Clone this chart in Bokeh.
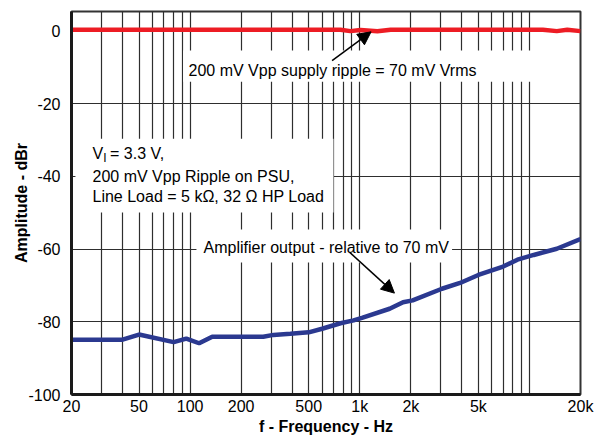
from bokeh.plotting import figure
from bokeh.models import (Range1d, FixedTicker, Label, BoxAnnotation, Arrow, NormalHead)
from bokeh.embed import file_html
from bokeh.resources import INLINE

# ---- data ----
ripple_freq = [20, 770, 880, 1010, 1270, 1520, 12000, 14500, 16700, 20000]
ripple_db = [0.4, 0.4, 0.0, 0.3, -0.05, 0.4, 0.4, 0.0, 0.35, 0.0]

amp_freq = [20, 40, 50, 80, 95, 113, 135, 270, 310, 390, 500, 600, 770, 920, 1030,
            1500, 1800, 2050, 3050, 3900, 5000, 7000, 8500, 10600, 14500, 20000]
amp_db = [-84.9, -84.9, -83.5, -85.6, -84.6, -85.9, -84.1, -84.1, -83.6, -83.3, -82.9,
          -81.9, -80.4, -79.6, -78.9, -76.4, -74.6, -74.1, -70.9, -69.3, -67.1, -64.8,
          -62.9, -61.6, -59.9, -57.2]

x_ticks = [20, 50, 100, 200, 500, 1000, 2000, 5000, 20000]
x_tick_labels = ["20", "50", "100", "200", "500", "1k", "2k", "5k", "20k"]
x_grid = [30, 40, 50, 60, 70, 80, 90, 100, 200, 300, 400, 500, 600, 700, 800, 900,
          1000, 2000, 3000, 4000, 5000, 6000, 7000, 8000, 9000, 10000]
y_ticks = [-100, -80, -60, -40, -20, 0]
y_tick_labels = ["-100", "-80", "-60", "-40", "-20", "0"]
y_grid = [-80, -60, -40, -20]

FONT = "Liberation Sans"

p = figure(width=594, height=437, x_axis_type="log",
           x_range=Range1d(20, 20000), y_range=Range1d(-100, 5.4),
           output_backend="svg", toolbar_location=None,
           min_border_left=71, min_border_right=14, min_border_top=11, min_border_bottom=43)

p.background_fill_color = "white"
p.border_fill_color = "white"
p.outline_line_color = "#333333"
p.outline_line_width = 2

# grid
p.xgrid.ticker = FixedTicker(ticks=x_grid)
p.ygrid.ticker = FixedTicker(ticks=y_grid)
for g in (p.xgrid, p.ygrid):
    g.grid_line_color = "#2e2e2e"
    g.grid_line_width = 1.2
    g.minor_grid_line_color = None

# axes
p.xaxis.ticker = FixedTicker(ticks=x_ticks)
p.xaxis.major_label_overrides = {t: l for t, l in zip(x_ticks, x_tick_labels)}
p.yaxis.ticker = FixedTicker(ticks=y_ticks)
p.yaxis.major_label_overrides = {t: l for t, l in zip(y_ticks, y_tick_labels)}
for ax in (p.xaxis, p.yaxis):
    ax.axis_line_color = "#1a1a1a"
    ax.axis_line_width = 3
    ax.major_tick_line_color = None
    ax.minor_tick_line_color = None
    ax.major_label_text_font = FONT
    ax.major_label_text_font_size = "16px"
    ax.major_label_text_color = "black"
    ax.axis_label_text_font = FONT
    ax.axis_label_text_font_size = "16px"
    ax.axis_label_text_font_style = "bold"
    ax.axis_label_text_color = "black"
p.xaxis.axis_label = "f - Frequency - Hz"
p.yaxis.axis_label = "Amplitude - dBr"
p.xaxis.major_label_standoff = -3
p.xaxis.axis_label_standoff = 0
p.yaxis.major_label_standoff = 5
p.yaxis.axis_label_standoff = -5

# data lines
p.line(ripple_freq, ripple_db, line_color="#ED1C24", line_width=4.5)
p.line(amp_freq, amp_db, line_color="#2B3990", line_width=4.5)

# white boxes behind the annotation texts
boxes = [(91, 10800, -5.3, -13.9), (21.1, 700, -29.6, -49.9), (109, 3500, -54.6, -63.7)]
for l, r, t, b in boxes:
    p.add_layout(BoxAnnotation(left=l, right=r, top=t, bottom=b, fill_color="white",
                               fill_alpha=1, line_color=None))

# arrows
p.add_layout(Arrow(x_start=687, y_start=-8.1, x_end=1166, y_end=-0.2, line_width=1.5,
                   line_color="black",
                   end=NormalHead(size=13, fill_color="black", line_color="black")))
p.add_layout(Arrow(x_start=873, y_start=-60.9, x_end=1601, y_end=-72.1, line_width=1.5,
                   line_color="black",
                   end=NormalHead(size=13, fill_color="black", line_color="black")))


def lab(x, y, text, size="16px", xo=0, yo=0):
    p.add_layout(Label(x=x, y=y, text=text, x_offset=xo, y_offset=yo,
                       text_font=FONT, text_font_size=size, text_color="black",
                       text_baseline="middle", text_align="left"))


lab(97.9, -10.7, "200 mV Vpp supply ripple = 70 mV Vrms")
lab(120, -59.6, "Amplifier output - relative to 70 mV")
lab(26.6, -33.6, "V")
lab(26.6, -33.6, "I", size="12px", xo=10.8, yo=-5)
lab(26.6, -33.6, "= 3.3 V,", xo=17.5)
lab(26.6, -39.9, "200 mV Vpp Ripple on PSU,")
lab(26.6, -45.4, "Line Load = 5 k\u03a9, 32 \u03a9 HP Load")

open("out.html", "w").write(file_html(p, INLINE))
